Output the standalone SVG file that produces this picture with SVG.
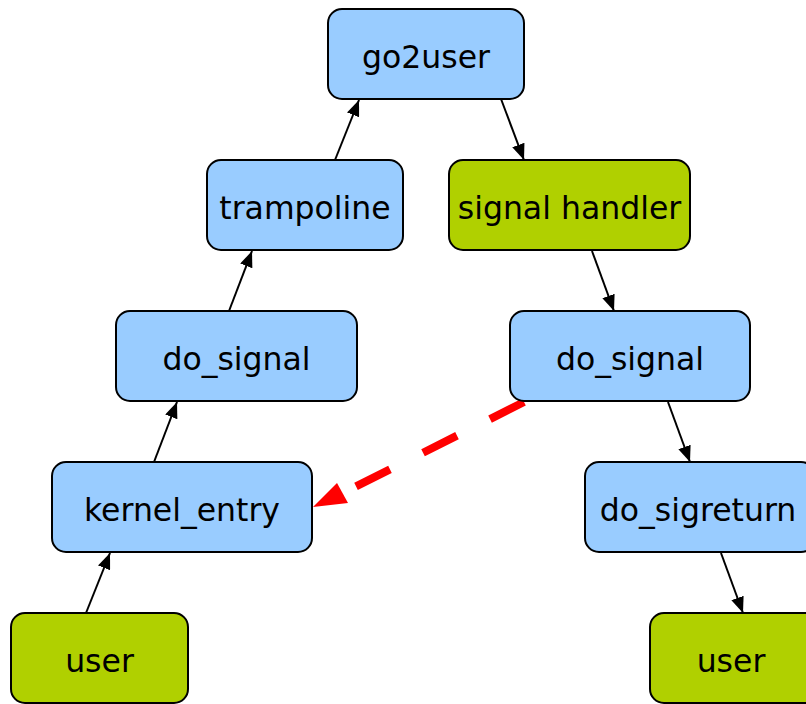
<svg xmlns="http://www.w3.org/2000/svg" width="806" height="704" viewBox="0 0 806 704">
  <style>
    .node rect { stroke: #000; stroke-width: 2; }
    .blue rect { fill: #99ccff; }
    .green rect { fill: #b0d000; }
    .node text { font-family: "DejaVu Sans", sans-serif; font-size: 31.5px; fill: #000; text-anchor: middle; }
    .edge { stroke: #000; stroke-width: 2; fill: none; }
    .ret { stroke: #ff0000; stroke-width: 8; fill: none; stroke-dasharray: 38 37; }
  </style>
  <defs>
    <marker id="arrow" viewBox="0 0 16 13" refX="16" refY="6.5" markerWidth="16" markerHeight="13" markerUnits="userSpaceOnUse" orient="auto">
      <path d="M0,0 L16,6.5 L0,13 Z" fill="#000"/>
    </marker>
  </defs>
  <rect width="806" height="704" fill="#fff"/>

  <g id="connectors">
    <line class="edge" x1="501" y1="99" x2="524" y2="160" marker-end="url(#arrow)"/>
    <line class="edge" x1="335" y1="160" x2="359" y2="100" marker-end="url(#arrow)"/>
    <line class="edge" x1="229" y1="311" x2="252" y2="251" marker-end="url(#arrow)"/>
    <line class="edge" x1="154" y1="462" x2="177" y2="402" marker-end="url(#arrow)"/>
    <line class="edge" x1="86" y1="613" x2="110" y2="553" marker-end="url(#arrow)"/>
    <line class="edge" x1="592" y1="251" x2="614" y2="311" marker-end="url(#arrow)"/>
    <line class="edge" x1="668" y1="402" x2="690" y2="462" marker-end="url(#arrow)"/>
    <line class="edge" x1="721" y1="553" x2="743" y2="613" marker-end="url(#arrow)"/>
    <!-- return path from the handler's do_signal back to kernel_entry -->
    <line class="ret" x1="524" y1="402" x2="343" y2="493"/>
    <polygon points="313,507 337,483 348,503" fill="#ff0000"/>
  </g>

  <g id="go2user" class="node blue">
    <rect x="328" y="9" width="196" height="90" rx="14"/>
    <text x="426" y="68">go2user</text>
  </g>
  <g id="trampoline" class="node blue">
    <rect x="207" y="160" width="196" height="90" rx="14"/>
    <text x="305" y="219">trampoline</text>
  </g>
  <g id="signal_handler" class="node green">
    <rect x="449" y="160" width="241" height="90" rx="14"/>
    <text x="569.5" y="219">signal handler</text>
  </g>
  <g id="do_signal_left" class="node blue">
    <rect x="116" y="311" width="241" height="90" rx="14"/>
    <text x="236.5" y="370">do_signal</text>
  </g>
  <g id="do_signal_right" class="node blue">
    <rect x="510" y="311" width="240" height="90" rx="14"/>
    <text x="630" y="370">do_signal</text>
  </g>
  <g id="kernel_entry" class="node blue">
    <rect x="52" y="462" width="260" height="90" rx="14"/>
    <text x="182" y="521">kernel_entry</text>
  </g>
  <g id="do_sigreturn" class="node blue">
    <rect x="585" y="462" width="230" height="90" rx="14"/>
    <text x="698" y="521">do_sigreturn</text>
  </g>
  <g id="user_left" class="node green">
    <rect x="11" y="613" width="177" height="90" rx="14"/>
    <text x="99.5" y="672">user</text>
  </g>
  <g id="user_right" class="node green">
    <rect x="650" y="613" width="170" height="90" rx="14"/>
    <text x="731" y="672">user</text>
  </g>
</svg>
